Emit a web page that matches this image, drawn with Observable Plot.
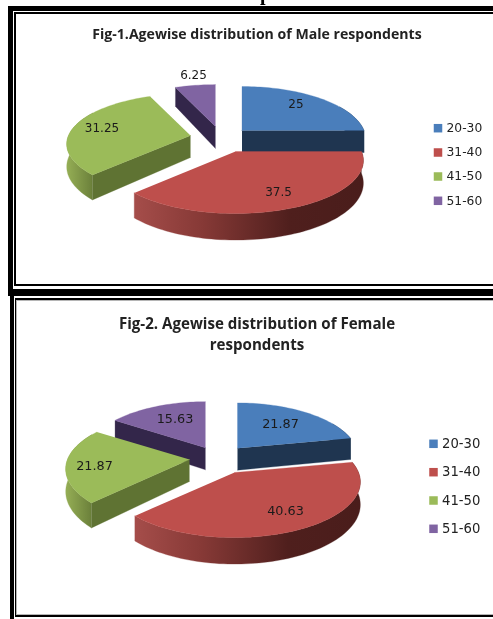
<!DOCTYPE html>
<html>
<head>
<meta charset="utf-8">
<script src="https://cdn.jsdelivr.net/npm/d3@7"></script>
<script src="https://cdn.jsdelivr.net/npm/@observablehq/plot@0.6"></script>
<style>
html,body{margin:0;padding:0;background:#fff;overflow:hidden}
#page{position:relative;width:493px;height:619px;overflow:hidden;filter:blur(0.4px)}
#page svg{position:absolute;left:16px;background:transparent}
.b{position:absolute;background:#000}
.g{position:absolute;background:#b5b5b5}
#clip{position:absolute;left:260px;top:-17px;font:bold 20px/20px "Liberation Serif";color:#000}
</style>
</head>
<body>
<div id="page">
  <div id="clip">p</div>
  <div class="b" style="left:8px;top:6px;width:485px;height:4.7px"></div>
  <div class="b" style="left:8px;top:6px;width:4.7px;height:284px"></div>
  <div class="b" style="left:14px;top:12px;width:479px;height:1.7px"></div>
  <div class="b" style="left:14px;top:12px;width:1.7px;height:274px"></div>
  <div class="b" style="left:14px;top:284px;width:479px;height:1.8px"></div>
  <div class="b" style="left:8px;top:289px;width:485px;height:7px"></div>
  <div class="b" style="left:9.5px;top:296px;width:4.2px;height:323px"></div>
  <div class="b" style="left:14.8px;top:298px;width:478.2px;height:1.6px"></div>
  <div class="b" style="left:14.8px;top:298px;width:1.4px;height:318.5px"></div>
  <div class="g" style="left:16.2px;top:299.6px;width:476.8px;height:1px"></div>
  <div class="g" style="left:16.2px;top:299.6px;width:1px;height:315px"></div>
  <div class="g" style="left:16.2px;top:614px;width:476.8px;height:1px"></div>
  <div class="b" style="left:14.8px;top:615px;width:478.2px;height:1.5px"></div>
</div>
<script>
// Data
const ageGroups = ["20-30", "31-40", "41-50", "51-60"];
const maleValues = [25, 37.5, 31.25, 6.25];
const femaleValues = [21.87, 40.63, 21.87, 15.63];
const maleTitle = "Fig-1.Agewise distribution of Male respondents";
const femaleTitle = "Fig-2. Agewise distribution of Female\nrespondents";

// Styles
const topColors = ["#4a7ebb", "#be4f4c", "#9bbb59", "#8064a2"];
const wallColors = ["#1f3550", "#4f1f1d", "#5f7333", "#33264a"];
const drawOrder = [3, 0, 2, 1];

// Layout of the exploded slices: apex x, apex y, radius x, radius y
const maleApex = [[241.5,130,122,51.5],[235,151,126,51.5],[190,135,122,49],[215,126,121,49]];
const femaleApex = [[237,447.7,119,53],[234,472,124,54],[189,459,122,54],[205,447.3,119,54]];
const maleLabels = [[295.5,104],[278,192],[101.5,127.5],[193,74.5]];
const femaleLabels = [[280,423],[285,510],[94,465],[174.5,418.5]];
const perspective = 0.17, wallDepth = 22;

function project(a, theta) {
  const [cx, cy, rx, ry] = a;
  const X = Math.sin(theta), Y = Math.cos(theta), s = 1 / (1 + perspective * Y);
  return {x: cx + rx * X * s, y: cy - ry * Y * s, s};
}
const drop = (p) => ({x: p.x, y: p.y + wallDepth * p.s});
function arc(a, t0, t1) {
  const n = Math.max(2, Math.ceil(Math.abs(t1 - t0) / 0.03));
  return d3.range(n + 1).map((i) => project(a, t0 + (t1 - t0) * i / n));
}
function poly(points, fill) {
  return Plot.line(points, {x: "x", y: "y", fill, stroke: fill, strokeWidth: 0.3, curve: "linear"});
}
function gradients(id) {
  return () => {
    const defs = d3.create("svg:defs");
    const g1 = defs.append("linearGradient").attr("id", id + "r");
    [[0, "#a54d4a"], [0.3, "#863936"], [0.68, "#4f1f1d"], [1, "#4a1d1b"]].forEach(([o, c]) =>
      g1.append("stop").attr("offset", o).attr("stop-color", c));
    const g2 = defs.append("linearGradient").attr("id", id + "g");
    [[0, "#95ae55"], [1, "#6a7f3a"]].forEach(([o, c]) =>
      g2.append("stop").attr("offset", o).attr("stop-color", c));
    return defs.node();
  };
}

function figure(opts) {
  const {id, values, apex, labels, title, titleY, titleSize, labelSize, legendX, legendYs, legendSize, top, bottom} = opts;
  const total = d3.sum(values);
  const cum = d3.cumsum(values).map((v) => v / total * 2 * Math.PI);
  const starts = [0, ...cum.slice(0, -1)];
  const marks = [gradients(id)];
  for (const i of drawOrder) {
    const a = apex[i], t0 = starts[i], t1 = cum[i];
    const centre = {x: a[0], y: a[1], s: 1};
    const wall = wallColors[i];
    // outer curved wall
    const w0 = Math.max(t0, Math.PI / 3), w1 = Math.min(t1, 5 * Math.PI / 3);
    if (w1 > w0) {
      const ar = arc(a, w0, w1);
      const fill = i === 1 ? `url(#${id}r)` : i === 2 ? `url(#${id}g)` : wall;
      marks.push(poly([...ar, ...ar.map(drop).reverse()], fill));
    }
    // radial walls facing the viewer
    if (Math.sin(t0) < -0.01) {
      const e = project(a, t0);
      marks.push(poly([centre, e, drop(e), drop(centre)], wall));
    }
    if (Math.sin(t1) > 0.01) {
      const e = project(a, t1);
      marks.push(poly([centre, e, drop(e), drop(centre)], wall));
    }
    // top face
    marks.push(poly([centre, ...arc(a, t0, t1)], topColors[i]));
  }
  const labelRows = values.map((v, i) => ({v: String(v), x: labels[i][0], y: labels[i][1]}));
  marks.push(Plot.text(labelRows, {x: "x", y: "y", text: "v", fontSize: labelSize, fill: "#1a1a1a", fontFamily: "DejaVu Sans"}));
  const legendRows = ageGroups.map((g, i) => ({g, y: legendYs[i], c: topColors[i]}));
  marks.push(Plot.dot(legendRows, {x: () => legendX, y: "y", symbol: "square", r: 4.8, fill: (d) => d.c, stroke: "none"}));
  marks.push(Plot.text(legendRows, {x: () => legendX + 8.5, y: "y", text: "g", textAnchor: "start", fontSize: legendSize, fill: "#222", fontFamily: "DejaVu Sans"}));
  marks.push(Plot.text([title], {x: () => 256.5, y: () => titleY, text: (d) => d, lineHeight: 1.42, fontSize: titleSize, fontWeight: 700, fill: "#222", fontFamily: "Open Sans"}));
  const width = 477, height = bottom - top;
  const plot = Plot.plot({
    width, height, margin: 0,
    x: {domain: [16, 493], range: [0, width], axis: null},
    y: {domain: [top, bottom], range: [0, height], axis: null},
    style: {background: "transparent"},
    marks
  });
  plot.style.top = top + "px";
  document.getElementById("page").appendChild(plot);
}

figure({id: "m", values: maleValues, apex: maleApex, labels: maleLabels, title: maleTitle,
  titleY: 32.3, titleSize: 14.1, labelSize: 12, legendX: 437.5, legendYs: [127.7, 152, 176, 200.3], legendSize: 12.3, top: 15, bottom: 283});
figure({id: "f", values: femaleValues, apex: femaleApex, labels: femaleLabels, title: femaleTitle,
  titleY: 332, titleSize: 15.1, labelSize: 12.8, legendX: 433, legendYs: [443.3, 471.7, 500, 528.3], legendSize: 13.2, top: 301, bottom: 614});
</script>
</body>
</html>
